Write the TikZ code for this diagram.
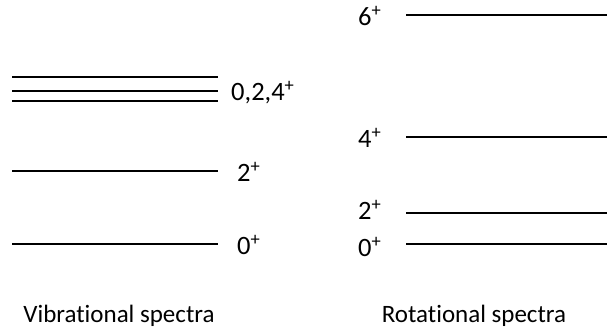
\documentclass[tikz,border=0pt]{standalone}
\usepackage{fontspec}
\setmainfont{Carlito}[Ligatures=NoCommon]
\begin{document}
\begin{tikzpicture}[x=1pt,y=-1pt,
  level/.style={line width=2pt},
  lab/.style={anchor=west,inner sep=0pt,font=\fontsize{26.5}{30}\selectfont},
  spectitle/.style={inner sep=0pt,font=\fontsize{25}{30}\selectfont}]
\useasboundingbox (0,0) rectangle (607,332);
% vibrational
\coordinate (v1a) at (12,77); \coordinate (v1b) at (218,77);
\coordinate (v2a) at (12,91); \coordinate (v2b) at (218,91);
\coordinate (v3a) at (12,101); \coordinate (v3b) at (218,101);
\coordinate (v4a) at (12,171); \coordinate (v4b) at (218,171);
\coordinate (v5a) at (12,244); \coordinate (v5b) at (218,244);
\draw[level] (v1a) -- (v1b);
\draw[level] (v2a) -- (v2b);
\draw[level] (v3a) -- (v3b);
\draw[level] (v4a) -- (v4b);
\draw[level] (v5a) -- (v5b);
\node[lab] (l024) at (231,93) {0,2,4\textsuperscript{+}};
\node[lab] (l2v) at (237,172) {2\textsuperscript{+}};
\node[lab] (l0v) at (237,245) {0\textsuperscript{+}};
% rotational
\coordinate (r6a) at (406,15); \coordinate (r6b) at (607,15);
\coordinate (r4a) at (406,137); \coordinate (r4b) at (607,137);
\coordinate (r2a) at (406,213); \coordinate (r2b) at (607,213);
\coordinate (r0a) at (406,244); \coordinate (r0b) at (607,244);
\draw[level] (r6a) -- (r6b);
\draw[level] (r4a) -- (r4b);
\draw[level] (r2a) -- (r2b);
\draw[level] (r0a) -- (r0b);
\node[lab] (l6r) at (358,16) {6\textsuperscript{+}};
\node[lab] (l4r) at (358,138) {4\textsuperscript{+}};
\node[lab] (l2r) at (358,210) {2\textsuperscript{+}};
\node[lab] (l0r) at (358,247) {0\textsuperscript{+}};
\node[spectitle] (cv) at (119,316) {Vibrational spectra};
\node[spectitle] (cr) at (474,316) {Rotational spectra};
\end{tikzpicture}
\end{document}
